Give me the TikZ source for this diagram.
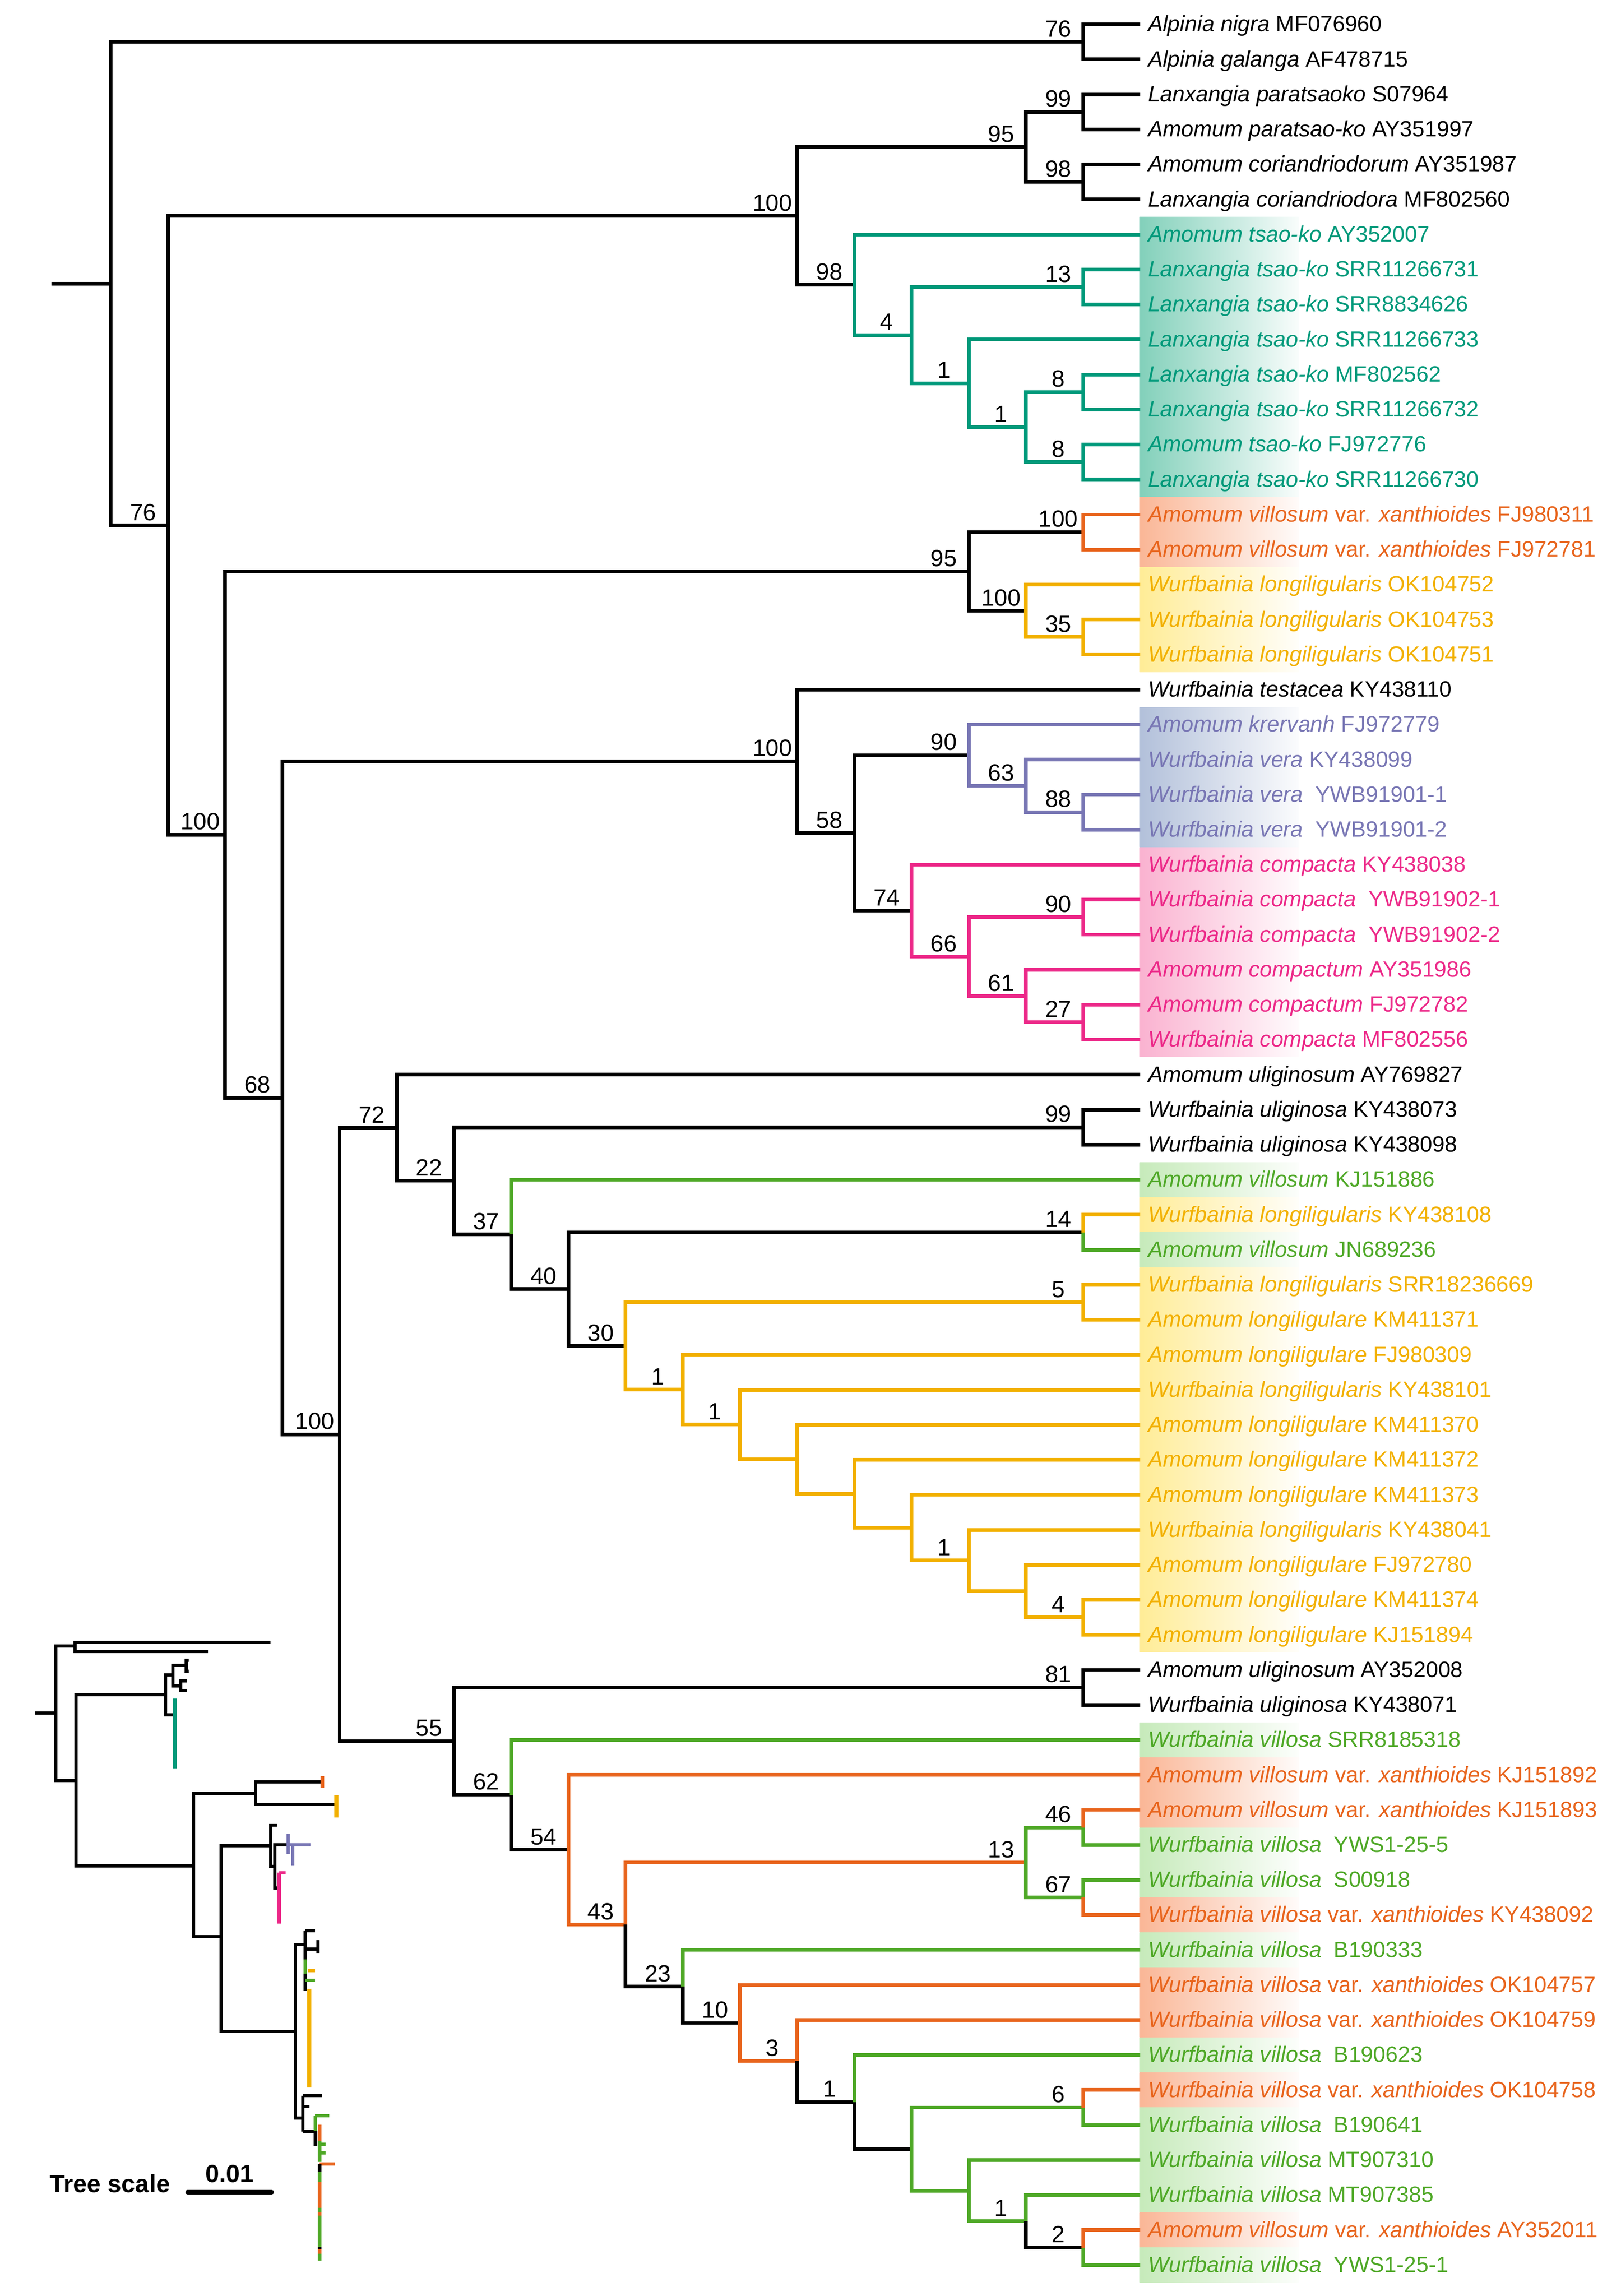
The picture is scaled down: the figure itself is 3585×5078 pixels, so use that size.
\documentclass[tikz,border=0pt]{standalone}
\usepackage{fontspec}
\setmainfont{Liberation Sans}
\usetikzlibrary{calc}
\definecolor{cT}{RGB}{0,153,122}
\definecolor{cO}{RGB}{232,100,28}
\definecolor{cY}{RGB}{242,176,0}
\definecolor{cP}{RGB}{120,118,180}
\definecolor{cK}{RGB}{236,40,136}
\definecolor{cG}{RGB}{78,168,38}
\definecolor{bT}{RGB}{130,208,186}
\definecolor{bO}{RGB}{250,182,150}
\definecolor{bY}{RGB}{255,236,150}
\definecolor{bP}{RGB}{178,192,218}
\definecolor{bK}{RGB}{250,178,208}
\definecolor{bG}{RGB}{198,234,186}
\tikzset{
  br/.style={line width=1.6pt, line join=miter},
  lab/.style={inner sep=0pt, anchor=base west, font=\fontsize{9.8}{11}\selectfont},
  bs/.style={inner sep=0pt, anchor=base, font=\fontsize{10.4}{11}\selectfont},
  ins/.style={line width=1.4pt},
  insthick/.style={line width=1.7pt},
  sc/.style={inner sep=0pt, font=\fontsize{11}{13}\selectfont\bfseries},
}
\newcommand\tIn[3]{\coordinate (#1) at ({2522-126.5*(#2)},{-(54+77.43*(#3))});}
\newcommand\tLf[3]{\coordinate (L#1) at (2522,{-(54+77.43*(#1))});
  \node[lab,text=#2] (T#1) at (2538,{-(54+77.43*(#1))-16}) {#3};}
\newcommand\tBr[3]{\draw[br,#1] (#2) |- (#3);}
\newcommand\tBs[2]{\node[bs] (b#1) at ([xshift=-11pt,yshift=2.2pt]#1) {#2};}
\newcommand\tBx[3]{\shade[left color=#1, right color=#1!5!white] (2520,{-(54+77.43*(#2))+38.3}) rectangle (2873,{-(54+77.43*(#3))-38.3});}
\begin{document}
\begin{tikzpicture}[x=0.2pt,y=0.2pt]
\useasboundingbox (0,0) rectangle (3585,-5078);
\fill[white] (0,0) rectangle (3585,-5078);
% highlight boxes
\tBx{bT}{6}{13}
\tBx{bO}{14}{15}
\tBx{bY}{16}{18}
\tBx{bP}{20}{23}
\tBx{bK}{24}{29}
\tBx{bG}{33}{33}
\tBx{bY}{34}{34}
\tBx{bG}{35}{35}
\tBx{bY}{36}{46}
\tBx{bG}{49}{49}
\tBx{bO}{50}{51}
\tBx{bG}{52}{53}
\tBx{bO}{54}{54}
\tBx{bG}{55}{55}
\tBx{bO}{56}{57}
\tBx{bG}{58}{58}
\tBx{bO}{59}{59}
\tBx{bG}{60}{62}
\tBx{bO}{63}{63}
\tBx{bG}{64}{64}
% leaves
\tLf{0}{black}{\textit{Alpinia nigra} MF076960}
\tLf{1}{black}{\textit{Alpinia galanga} AF478715}
\tLf{2}{black}{\textit{Lanxangia paratsaoko} S07964}
\tLf{3}{black}{\textit{Amomum paratsao-ko} AY351997}
\tLf{4}{black}{\textit{Amomum coriandriodorum} AY351987}
\tLf{5}{black}{\textit{Lanxangia coriandriodora} MF802560}
\tLf{6}{cT}{\textit{Amomum tsao-ko} AY352007}
\tLf{7}{cT}{\textit{Lanxangia tsao-ko} SRR11266731}
\tLf{8}{cT}{\textit{Lanxangia tsao-ko} SRR8834626}
\tLf{9}{cT}{\textit{Lanxangia tsao-ko} SRR11266733}
\tLf{10}{cT}{\textit{Lanxangia tsao-ko} MF802562}
\tLf{11}{cT}{\textit{Lanxangia tsao-ko} SRR11266732}
\tLf{12}{cT}{\textit{Amomum tsao-ko} FJ972776}
\tLf{13}{cT}{\textit{Lanxangia tsao-ko} SRR11266730}
\tLf{14}{cO}{\textit{Amomum villosum} var. \textit{xanthioides} FJ980311}
\tLf{15}{cO}{\textit{Amomum villosum} var. \textit{xanthioides} FJ972781}
\tLf{16}{cY}{\textit{Wurfbainia longiligularis} OK104752}
\tLf{17}{cY}{\textit{Wurfbainia longiligularis} OK104753}
\tLf{18}{cY}{\textit{Wurfbainia longiligularis} OK104751}
\tLf{19}{black}{\textit{Wurfbainia testacea} KY438110}
\tLf{20}{cP}{\textit{Amomum krervanh} FJ972779}
\tLf{21}{cP}{\textit{Wurfbainia vera} KY438099}
\tLf{22}{cP}{\textit{Wurfbainia vera}\ \ YWB91901-1}
\tLf{23}{cP}{\textit{Wurfbainia vera}\ \ YWB91901-2}
\tLf{24}{cK}{\textit{Wurfbainia compacta} KY438038}
\tLf{25}{cK}{\textit{Wurfbainia compacta}\ \ YWB91902-1}
\tLf{26}{cK}{\textit{Wurfbainia compacta}\ \ YWB91902-2}
\tLf{27}{cK}{\textit{Amomum compactum} AY351986}
\tLf{28}{cK}{\textit{Amomum compactum} FJ972782}
\tLf{29}{cK}{\textit{Wurfbainia compacta} MF802556}
\tLf{30}{black}{\textit{Amomum uliginosum} AY769827}
\tLf{31}{black}{\textit{Wurfbainia uliginosa} KY438073}
\tLf{32}{black}{\textit{Wurfbainia uliginosa} KY438098}
\tLf{33}{cG}{\textit{Amomum villosum} KJ151886}
\tLf{34}{cY}{\textit{Wurfbainia longiligularis} KY438108}
\tLf{35}{cG}{\textit{Amomum villosum} JN689236}
\tLf{36}{cY}{\textit{Wurfbainia longiligularis} SRR18236669}
\tLf{37}{cY}{\textit{Amomum longiligulare} KM411371}
\tLf{38}{cY}{\textit{Amomum longiligulare} FJ980309}
\tLf{39}{cY}{\textit{Wurfbainia longiligularis} KY438101}
\tLf{40}{cY}{\textit{Amomum longiligulare} KM411370}
\tLf{41}{cY}{\textit{Amomum longiligulare} KM411372}
\tLf{42}{cY}{\textit{Amomum longiligulare} KM411373}
\tLf{43}{cY}{\textit{Wurfbainia longiligularis} KY438041}
\tLf{44}{cY}{\textit{Amomum longiligulare} FJ972780}
\tLf{45}{cY}{\textit{Amomum longiligulare} KM411374}
\tLf{46}{cY}{\textit{Amomum longiligulare} KJ151894}
\tLf{47}{black}{\textit{Amomum uliginosum} AY352008}
\tLf{48}{black}{\textit{Wurfbainia uliginosa} KY438071}
\tLf{49}{cG}{\textit{Wurfbainia villosa} SRR8185318}
\tLf{50}{cO}{\textit{Amomum villosum} var. \textit{xanthioides} KJ151892}
\tLf{51}{cO}{\textit{Amomum villosum} var. \textit{xanthioides} KJ151893}
\tLf{52}{cG}{\textit{Wurfbainia villosa}\ \ YWS1-25-5}
\tLf{53}{cG}{\textit{Wurfbainia villosa}\ \ S00918}
\tLf{54}{cO}{\textit{Wurfbainia villosa} var. \textit{xanthioides} KY438092}
\tLf{55}{cG}{\textit{Wurfbainia villosa}\ \ B190333}
\tLf{56}{cO}{\textit{Wurfbainia villosa} var. \textit{xanthioides} OK104757}
\tLf{57}{cO}{\textit{Wurfbainia villosa} var. \textit{xanthioides} OK104759}
\tLf{58}{cG}{\textit{Wurfbainia villosa}\ \ B190623}
\tLf{59}{cO}{\textit{Wurfbainia villosa} var. \textit{xanthioides} OK104758}
\tLf{60}{cG}{\textit{Wurfbainia villosa}\ \ B190641}
\tLf{61}{cG}{\textit{Wurfbainia villosa} MT907310}
\tLf{62}{cG}{\textit{Wurfbainia villosa} MT907385}
\tLf{63}{cO}{\textit{Amomum villosum} var. \textit{xanthioides} AY352011}
\tLf{64}{cG}{\textit{Wurfbainia villosa}\ \ YWS1-25-1}
% internal nodes
\tIn{A76}{1}{0.5}
\tIn{P99}{1}{2.5}
\tIn{C98}{1}{4.5}
\tIn{N95a}{2}{3.5}
\tIn{T13}{1}{7.5}
\tIn{T8a}{1}{10.5}
\tIn{T8b}{1}{12.5}
\tIn{T1b}{2}{11.5}
\tIn{T1a}{3}{10.25}
\tIn{T4}{4}{8.875}
\tIn{T98}{5}{7.4375}
\tIn{N100a}{6}{5.46875}
\tIn{O100}{1}{14.5}
\tIn{Y35}{1}{17.5}
\tIn{Y100}{2}{16.75}
\tIn{N95b}{3}{15.625}
\tIn{P88}{1}{22.5}
\tIn{P63}{2}{21.75}
\tIn{P90}{3}{20.875}
\tIn{K27}{1}{28.5}
\tIn{K61}{2}{27.75}
\tIn{K90}{1}{25.5}
\tIn{K66}{3}{26.625}
\tIn{K74}{4}{25.3125}
\tIn{N58}{5}{23.09375}
\tIn{N100c}{6}{21.046875}
\tIn{U99}{1}{31.5}
\tIn{G14}{1}{34.5}
\tIn{G5}{1}{36.5}
\tIn{G4}{1}{45.5}
\tIn{Ya2}{2}{44.75}
\tIn{Ya3}{3}{43.875}
\tIn{Ya4}{4}{42.9375}
\tIn{Ya5}{5}{41.96875}
\tIn{Ya6}{6}{40.984375}
\tIn{Ya7}{7}{39.9921875}
\tIn{Ya8}{8}{38.99609375}
\tIn{N30}{9}{37.748046875}
\tIn{N40}{10}{36.1240234375}
\tIn{N37}{11}{34.56201171875}
\tIn{N22}{12}{33.031005859375}
\tIn{N72}{13}{31.5155029296875}
\tIn{V81}{1}{47.5}
\tIn{V46}{1}{51.5}
\tIn{V67}{1}{53.5}
\tIn{V13}{2}{52.5}
\tIn{V6}{1}{59.5}
\tIn{V2}{1}{63.5}
\tIn{V1c}{2}{62.75}
\tIn{V3u}{3}{61.875}
\tIn{V4u}{4}{60.6875}
\tIn{V1b}{5}{59.34375}
\tIn{V3}{6}{58.171875}
\tIn{V10}{7}{57.0859375}
\tIn{V23}{8}{56.04296875}
\tIn{V43}{9}{54.271484375}
\tIn{V54}{10}{52.1357421875}
\tIn{V62}{11}{50.56787109375}
\tIn{V55}{12}{49.033935546875}
\tIn{N100d}{14}{40.27471923828125}
\tIn{N68}{15}{30.660797119140625}
\tIn{N100b}{16}{23.142898559570312}
\tIn{N76}{17}{14.305824279785156}
\tIn{R}{18}{7.402912139892578}
\coordinate (S) at (114,{-(54+77.43*7.402912)});
% branches
\draw[br] (S) -- (R);
\tBr{}{R}{A76} \tBr{}{R}{N76}
\tBr{}{A76}{L0} \tBr{}{A76}{L1}
\tBr{}{N76}{N100a} \tBr{}{N76}{N100b}
\tBr{}{N100a}{N95a} \tBr{}{N100a}{T98}
\tBr{}{N95a}{P99} \tBr{}{N95a}{C98}
\tBr{}{P99}{L2} \tBr{}{P99}{L3} \tBr{}{C98}{L4} \tBr{}{C98}{L5}
\tBr{cT}{T98}{L6} \tBr{cT}{T98}{T4} \tBr{cT}{T4}{T13} \tBr{cT}{T4}{T1a}
\tBr{cT}{T13}{L7} \tBr{cT}{T13}{L8} \tBr{cT}{T1a}{L9} \tBr{cT}{T1a}{T1b}
\tBr{cT}{T1b}{T8a} \tBr{cT}{T1b}{T8b} \tBr{cT}{T8a}{L10} \tBr{cT}{T8a}{L11}
\tBr{cT}{T8b}{L12} \tBr{cT}{T8b}{L13}
\tBr{}{N100b}{N95b} \tBr{}{N100b}{N68}
\tBr{}{N95b}{O100} \tBr{}{N95b}{Y100}
\tBr{cO}{O100}{L14} \tBr{cO}{O100}{L15}
\tBr{cY}{Y100}{L16} \tBr{cY}{Y100}{Y35} \tBr{cY}{Y35}{L17} \tBr{cY}{Y35}{L18}
\tBr{}{N68}{N100c} \tBr{}{N68}{N100d}
\tBr{}{N100c}{L19} \tBr{}{N100c}{N58}
\tBr{}{N58}{P90} \tBr{}{N58}{K74}
\tBr{cP}{P90}{L20} \tBr{cP}{P90}{P63} \tBr{cP}{P63}{L21} \tBr{cP}{P63}{P88}
\tBr{cP}{P88}{L22} \tBr{cP}{P88}{L23}
\tBr{cK}{K74}{L24} \tBr{cK}{K74}{K66} \tBr{cK}{K66}{K90} \tBr{cK}{K66}{K61}
\tBr{cK}{K90}{L25} \tBr{cK}{K90}{L26} \tBr{cK}{K61}{L27} \tBr{cK}{K61}{K27}
\tBr{cK}{K27}{L28} \tBr{cK}{K27}{L29}
\tBr{}{N100d}{N72} \tBr{}{N100d}{V55}
\tBr{}{N72}{L30} \tBr{}{N72}{N22}
\tBr{}{N22}{U99} \tBr{}{N22}{N37}
\tBr{}{U99}{L31} \tBr{}{U99}{L32}
\tBr{cG}{N37}{L33} \tBr{}{N37}{N40}
\tBr{}{N40}{G14} \tBr{}{N40}{N30}
\tBr{cY}{G14}{L34} \tBr{cG}{G14}{L35}
\tBr{cY}{N30}{G5} \tBr{cY}{N30}{Ya8}
\tBr{cY}{G5}{L36} \tBr{cY}{G5}{L37}
\tBr{cY}{Ya8}{L38} \tBr{cY}{Ya8}{Ya7}
\tBr{cY}{Ya7}{L39} \tBr{cY}{Ya7}{Ya6}
\tBr{cY}{Ya6}{L40} \tBr{cY}{Ya6}{Ya5}
\tBr{cY}{Ya5}{L41} \tBr{cY}{Ya5}{Ya4}
\tBr{cY}{Ya4}{L42} \tBr{cY}{Ya4}{Ya3}
\tBr{cY}{Ya3}{L43} \tBr{cY}{Ya3}{Ya2}
\tBr{cY}{Ya2}{L44} \tBr{cY}{Ya2}{G4}
\tBr{cY}{G4}{L45} \tBr{cY}{G4}{L46}
\tBr{}{V55}{V81} \tBr{}{V55}{V62}
\tBr{}{V81}{L47} \tBr{}{V81}{L48}
\tBr{cG}{V62}{L49} \tBr{}{V62}{V54}
\tBr{cO}{V54}{L50} \tBr{cO}{V54}{V43}
\tBr{cO}{V43}{V13} \tBr{}{V43}{V23}
\tBr{cG}{V13}{V46} \tBr{cG}{V13}{V67}
\tBr{cO}{V46}{L51} \tBr{cG}{V46}{L52}
\tBr{cG}{V67}{L53} \tBr{cO}{V67}{L54}
\tBr{cG}{V23}{L55} \tBr{}{V23}{V10}
\tBr{cO}{V10}{L56} \tBr{cO}{V10}{V3}
\tBr{cO}{V3}{L57} \tBr{}{V3}{V1b}
\tBr{cG}{V1b}{L58} \tBr{}{V1b}{V4u}
\tBr{cG}{V4u}{V6} \tBr{cG}{V4u}{V3u}
\tBr{cO}{V6}{L59} \tBr{cG}{V6}{L60}
\tBr{cG}{V3u}{L61} \tBr{cG}{V3u}{V1c}
\tBr{cG}{V1c}{L62} \tBr{}{V1c}{V2}
\tBr{cO}{V2}{L63} \tBr{cG}{V2}{L64}
% bootstrap values
\tBs{A76}{76} \tBs{P99}{99} \tBs{N95a}{95} \tBs{C98}{98} \tBs{N100a}{100}
\tBs{T98}{98} \tBs{T13}{13} \tBs{T4}{4} \tBs{T1a}{1} \tBs{T8a}{8} \tBs{T1b}{1}
\tBs{T8b}{8} \tBs{N76}{76} \tBs{O100}{100} \tBs{N95b}{95} \tBs{Y100}{100}
\tBs{Y35}{35} \tBs{N100c}{100} \tBs{P90}{90} \tBs{P63}{63} \tBs{P88}{88}
\tBs{N58}{58} \tBs{K74}{74} \tBs{K90}{90} \tBs{K66}{66} \tBs{K61}{61}
\tBs{K27}{27} \tBs{N100b}{100} \tBs{N68}{68} \tBs{N72}{72} \tBs{U99}{99}
\tBs{N22}{22} \tBs{N37}{37} \tBs{G14}{14} \tBs{N40}{40} \tBs{G5}{5}
\tBs{N30}{30} \tBs{Ya8}{1} \tBs{Ya7}{1} \tBs{Ya3}{1} \tBs{G4}{4}
\tBs{N100d}{100} \tBs{V81}{81} \tBs{V55}{55} \tBs{V62}{62} \tBs{V46}{46}
\tBs{V54}{54} \tBs{V13}{13} \tBs{V67}{67} \tBs{V43}{43} \tBs{V23}{23}
\tBs{V10}{10} \tBs{V3}{3} \tBs{V1b}{1} \tBs{V6}{6} \tBs{V1c}{1} \tBs{V2}{2}
% ---------- inset phylogram ----------
\draw[ins] (77,-3789) -- (123,-3789);
\draw[ins] (123,-3789) |- (166,-3640);
\draw[ins] (123,-3789) |- (168,-3938);
\draw[ins] (166,-3640) |- (598,-3632);
\draw[ins] (166,-3640) |- (460,-3653);
\draw[ins] (168,-3938) |- (366,-3748);
\draw[ins] (168,-3938) |- (428,-4127);
\draw[ins] (366,-3748) |- (382,-3704);
\draw[ins] (366,-3748) |- (385,-3793);
\draw[insthick,cT] (387,-3757) -- (387,-3911);
\draw[ins] (382,-3704) |- (412,-3683);
\draw[ins] (382,-3704) |- (400,-3729);
\draw[ins] (412,-3683) |- (417,-3672);
\draw[ins] (412,-3683) |- (417,-3696);
\draw[ins] (400,-3729) |- (413,-3718);
\draw[ins] (400,-3729) |- (413,-3739);
\draw[ins] (428,-4127) |- (565,-3966);
\draw[ins] (428,-4127) |- (489,-4283);
\draw[ins] (565,-3966) |- (712,-3941);
\draw[ins] (565,-3966) |- (742,-3991);
\draw[insthick,cO] (713,-3928) -- (713,-3955);
\draw[insthick,cY] (744,-3970) -- (744,-4020);
\draw[ins] (489,-4283) |- (599,-4082);
\draw[ins] (489,-4283) |- (653,-4493);
\draw[ins] (599,-4082) |- (612,-4037);
\draw[ins] (599,-4082) |- (608,-4128);
\draw[ins] (608,-4128) |- (634,-4080);
\draw[ins] (608,-4128) |- (617,-4176);
\draw[ins,cP] (637,-4055) -- (637,-4100);
\draw[ins,cP] (637,-4080) -- (687,-4080);
\draw[ins,cP] (647,-4084) -- (647,-4125);
\draw[insthick,cK] (617,-4142) -- (617,-4254);
\draw[ins,cK] (617,-4142) -- (632,-4142);
\draw[ins] (653,-4493) |- (675,-4301);
\draw[ins] (653,-4493) |- (668,-4684);
\draw[ins] (675,-4270) -- (675,-4403);
\draw[ins] (675,-4270) -- (697,-4270);
\draw[ins] (675,-4311) -- (707,-4311);
\draw[ins] (703,-4291) -- (703,-4319);
\draw[ins,cG] (675,-4334) -- (675,-4365);
\draw[ins,cG] (675,-4380) -- (697,-4380);
\draw[ins,cY] (680,-4358) -- (697,-4358);
\draw[insthick,cY] (684,-4398) -- (684,-4617);
\draw[ins] (670,-4635) -- (670,-4714);
\draw[ins] (670,-4635) -- (712,-4635);
\draw[ins] (670,-4659) -- (685,-4659);
\draw[ins] (670,-4714) -- (697,-4714);
\draw[insthick] (698,-4712) -- (698,-4747);
\draw[ins,cG] (697,-4679) -- (728,-4679);
\draw[ins,cG] (697,-4679) -- (697,-4712);
\draw[insthick,cO] (707,-4699) -- (707,-4735);
\draw[insthick,cG] (707,-4735) -- (707,-4781);
\draw[ins,cG] (707,-4742) -- (720,-4742);
\draw[ins,cG] (707,-4762) -- (720,-4762);
\draw[ins,cO] (707,-4786) -- (740,-4786);
\draw[insthick] (707,-4786) -- (707,-4803);
\draw[insthick,cG] (707,-4803) -- (707,-4826);
\draw[insthick,cO] (707,-4826) -- (707,-4883);
\draw[insthick,cG] (707,-4883) -- (707,-4893);
\draw[insthick,cO] (707,-4893) -- (707,-4900);
\draw[insthick,cG] (707,-4900) -- (707,-4969);
\draw[insthick] (707,-4969) -- (707,-4974);
\draw[insthick,cO] (707,-4974) -- (707,-4985);
\draw[insthick,cG] (707,-4985) -- (707,-5000);
% tree scale
\node[sc, anchor=base west] (ts) at (109,-4849) {Tree scale};
\node[sc, anchor=base] (s001) at (508,-4827) {0.01};
\coordinate (sb1) at (415,-4848);
\coordinate (sb2) at (601,-4848);
\draw[line width=2pt, line cap=round] (sb1) -- (sb2);
\end{tikzpicture}
\end{document}
